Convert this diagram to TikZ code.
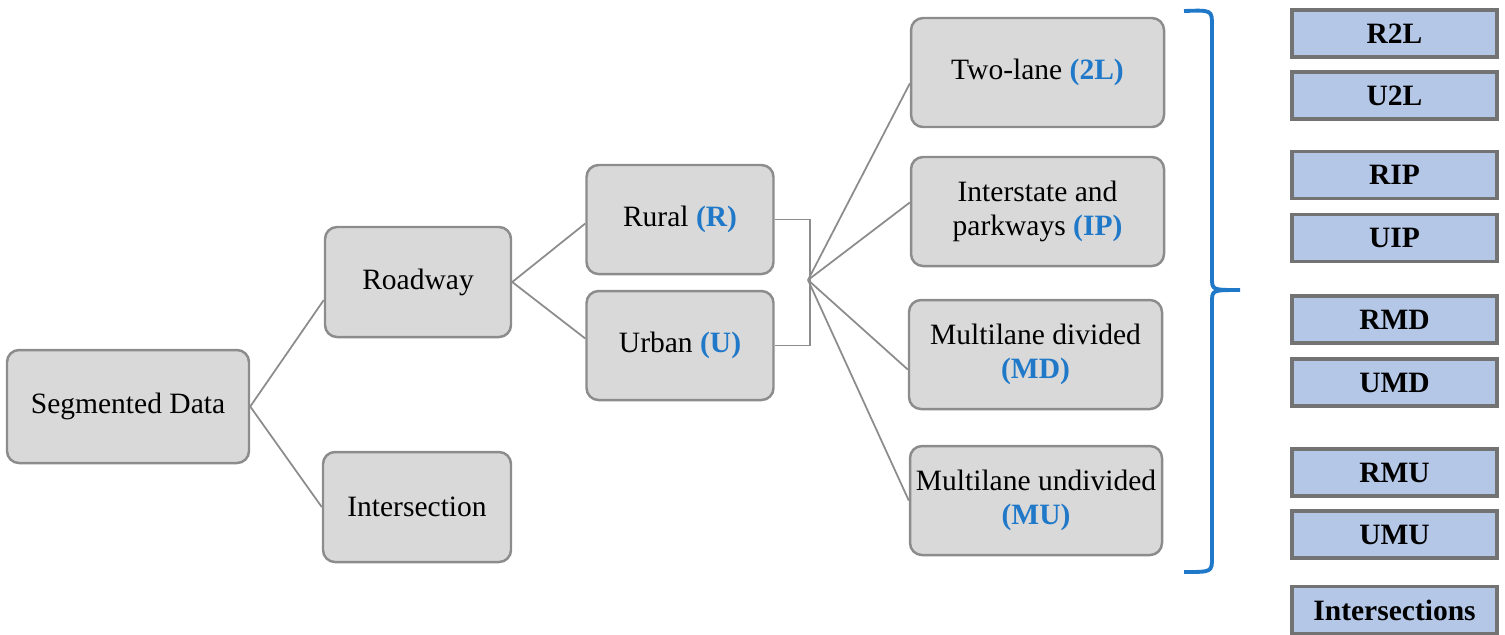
\documentclass[tikz,border=0pt]{standalone}
\usepackage{fontspec}
\setmainfont{Liberation Serif}
\usetikzlibrary{positioning}
\definecolor{boxgray}{HTML}{D9D9D9}
\definecolor{linegray}{HTML}{8C8C8C}
\definecolor{catblue}{HTML}{B4C7E7}
\definecolor{codeblue}{HTML}{1F78C8}
\tikzset{
  greybox/.style={rectangle, rounded corners=0.12cm, minimum width=1.87cm, minimum height=1.09cm, align=center, draw=linegray, line width=0.7pt, fill=boxgray, inner sep=1pt},
  classbox/.style={rectangle, minimum width=2.05cm, minimum height=0.47cm, align=center, draw=black!55, line width=1pt, fill=catblue, inner sep=1pt, font=\fontsize{8.4}{9.6}\selectfont\bfseries},
  branch/.style={draw=linegray, line width=0.5pt}
}
\newcommand{\abbr}[1]{\textcolor{codeblue}{\textbf{#1}}}
\begin{document}
\begin{tikzpicture}[every node/.style={font=\fontsize{8.4}{9.6}\selectfont}]
  \useasboundingbox (0,0) rectangle (15.05,-6.34);

  % --- tree of road types ---
  \node (segdata) [greybox, minimum width=2.42cm, minimum height=1.13cm] at (1.28,-4.065) {Segmented Data};
  \node (roadway) [greybox, minimum width=1.86cm, minimum height=1.10cm] at (4.18,-2.82) {Roadway};
  \node (inters) [greybox, minimum width=1.88cm, minimum height=1.10cm] at (4.17,-5.07) {Intersection};
  \node (rural) [greybox] at (6.80,-2.195) {Rural \abbr{(R)}};
  \node (urban) [greybox] at (6.80,-3.455) {Urban \abbr{(U)}};
  \node (twolane) [greybox, minimum width=2.53cm] at (10.375,-0.725) {Two-lane \abbr{(2L)}};
  \node (interstate) [greybox, minimum width=2.53cm] at (10.375,-2.115) {Interstate and\\parkways \abbr{(IP)}};
  \node (mdivided) [greybox, minimum width=2.53cm] at (10.355,-3.545) {Multilane divided\\\abbr{(MD)}};
  \node (mundivided) [greybox, minimum width=2.52cm] at (10.36,-5.005) {Multilane undivided\\\abbr{(MU)}};
  \coordinate (fan) at (8.08,-2.80);

  \draw [branch] (segdata.east) -- ([yshift=-0.18cm]roadway.west);
  \draw [branch] (segdata.east) -- (inters.west);
  \draw [branch] (roadway.east) -- ([yshift=-0.04cm]rural.west);
  \draw [branch] (roadway.east) -- ([yshift=0.07cm]urban.west);
  \draw [branch] (rural.east) -- ++(0.35,0) |- (urban.east);
  \draw [branch] (fan) -- ([yshift=-0.11cm]twolane.west);
  \draw [branch] (fan) -- ([yshift=0.09cm]interstate.west);
  \draw [branch] (fan) -- ([yshift=-0.15cm]mdivided.west);
  \draw [branch] (fan) -- (mundivided.west);

  % --- brace and resulting categories ---
  \draw [codeblue, line width=1.1pt] (11.84,-0.11) .. controls (12.12,-0.10) .. (12.12,-0.26) -- (12.12,-2.78)
    .. controls (12.12,-2.90) .. (12.40,-2.90) .. controls (12.12,-2.90) .. (12.12,-3.02)
    -- (12.12,-5.57) .. controls (12.12,-5.72) .. (11.84,-5.72);

  \node (r2l) [classbox] at (13.945,-0.335) {R2L};
  \node (u2l) [classbox] at (13.945,-0.955) {U2L};
  \node (rip) [classbox] at (13.945,-1.75) {RIP};
  \node (uip) [classbox] at (13.945,-2.38) {UIP};
  \node (rmd) [classbox] at (13.945,-3.195) {RMD};
  \node (umd) [classbox] at (13.945,-3.825) {UMD};
  \node (rmu) [classbox] at (13.945,-4.725) {RMU};
  \node (umu) [classbox] at (13.945,-5.345) {UMU};
  \node (allinters) [classbox] at (13.945,-6.10) {Intersections};
\end{tikzpicture}
\end{document}
